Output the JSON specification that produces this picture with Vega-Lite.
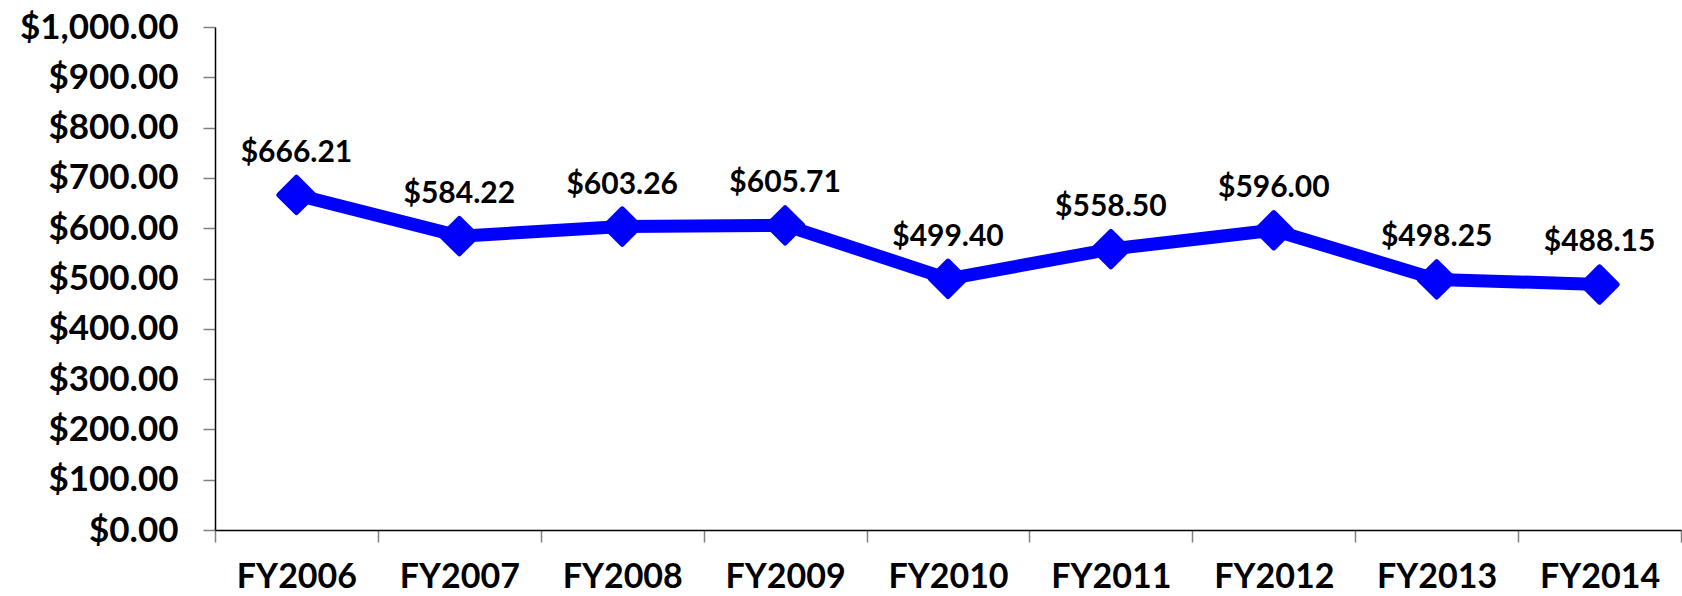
{
  "$schema": "https://vega.github.io/schema/vega-lite/v6.json",
  "autosize": "none",
  "width": 1466,
  "height": 503,
  "padding": {"left": 215, "top": 27, "right": 1, "bottom": 66},
  "background": "white",
  "config": {"view": {"stroke": null}, "font": "Lato"},
  "data": {"values": [
    {"year": "FY2006", "value": 666.21},
    {"year": "FY2007", "value": 584.22},
    {"year": "FY2008", "value": 603.26},
    {"year": "FY2009", "value": 605.71},
    {"year": "FY2010", "value": 499.40},
    {"year": "FY2011", "value": 558.50},
    {"year": "FY2012", "value": 596.00},
    {"year": "FY2013", "value": 498.25},
    {"year": "FY2014", "value": 488.15}
  ]},
  "encoding": {
    "x": {"field": "year", "type": "nominal", "sort": null,
      "scale": {"paddingInner": 0, "paddingOuter": 0},
      "axis": {"title": null, "labelAngle": 0, "tickBand": "extent", "domainColor": "#000000", "domainWidth": 1.5,
        "tickColor": "#808080", "tickWidth": 1.5, "tickSize": 12, "labelFontSize": 34, "labelFontWeight": "bold",
        "labelColor": "#000000", "labelPadding": 18, "labelFont": "Lato"}},
    "y": {"field": "value", "type": "quantitative",
      "scale": {"domain": [0, 1000], "nice": false},
      "axis": {"title": null, "values": [0,100,200,300,400,500,600,700,800,900,1000], "format": "$,.2f", "grid": false,
        "domainColor": "#000000", "domainWidth": 1.5, "tickColor": "#808080", "tickWidth": 1.5, "tickSize": 12,
        "labelFontSize": 35, "labelFontWeight": "bold", "labelColor": "#000000", "labelPadding": 25, "labelFont": "Lato"}}
  },
  "layer": [
    {"mark": {"type": "line", "color": "#0000FF", "strokeWidth": 13, "strokeJoin": "round"}},
    {"mark": {"type": "point", "shape": "diamond", "filled": true, "color": "#0000FF", "size": 1250, "opacity": 1, "strokeJoin": "round", "stroke": "#0000FF", "strokeWidth": 5}},
    {"mark": {"type": "text", "dy": -42, "fontSize": 30, "fontWeight": "bold", "color": "#000000", "font": "Lato"},
      "encoding": {"text": {"field": "value", "type": "quantitative", "format": "$,.2f"}}}
  ]
}
